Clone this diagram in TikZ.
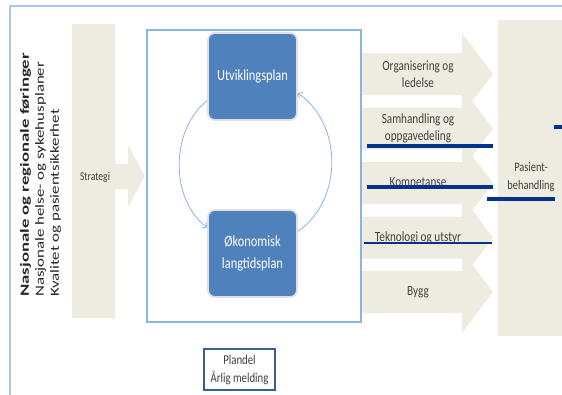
\documentclass[tikz,border=0pt]{standalone}
\usepackage{fontspec}
\setmainfont{Carlito}
\newfontfamily\hf[FakeStretch=0.8]{Carlito}
\newfontfamily\vf[FakeStretch=1.35]{Carlito}
\newfontfamily\vfb[FakeStretch=1.5]{Carlito}
\usetikzlibrary{arrows.meta}
\definecolor{beige}{HTML}{EEECE1}
\definecolor{boxblue}{HTML}{4F81BD}
\definecolor{frameblue}{HTML}{A6C6EC}
\definecolor{innerblue}{HTML}{8DB3E2}
\definecolor{navy}{HTML}{00338D}
\definecolor{txtgray}{HTML}{404040}
\definecolor{pdborder}{HTML}{3A5F8F}
\begin{document}
\begin{tikzpicture}[x=1pt,y=-1pt,
  bluebox/.style={draw=black!12, line width=1.8pt, fill=boxblue, rounded corners=7pt,
    text=white, align=center, font=\hf\fontsize{15.5}{22}\selectfont,
    minimum width=89pt, minimum height=87pt, inner sep=0pt},
  arrtext/.style={text=txtgray, align=center, font=\hf\fontsize{14}{17}\selectfont, inner sep=0pt},
  cycarrow/.style={draw=innerblue, line width=0.8pt, -{Straight Barb[length=3.5pt,width=7pt]}},
  navyline/.style={draw=navy, line width=4.5pt},
  thinnavy/.style={draw=navy, line width=1.2pt}]
\useasboundingbox (0,0) rectangle (562,394);
\fill[white] (0,0) rectangle (562,394);
% outer frame
\draw[frameblue, line width=1.5pt] (575,6) -- (10,6) -- (10,405);
% strategy arrow
\fill[beige] (72,24) -- (115,24) -- (115,164) -- (128,164) -- (128,145) -- (145,176)
  -- (128,207) -- (128,189) -- (115,189) -- (115,318) -- (72,318) -- cycle;
\node[arrtext, font=\hf\fontsize{12}{14}\selectfont] (strat) at (95,177) {Strategi};
% right arrows
\foreach \c in {74,128.5,183,237.5,292}
  \fill[beige] (361,\c-21) -- (462,\c-21) -- (462,\c-41) -- (493,\c) -- (462,\c+41)
    -- (462,\c+21) -- (361,\c+21) -- cycle;
\node[arrtext] (a1) at (418,74) {Organisering og\\ledelse};
\node[arrtext] (a2) at (418,128.5) {Samhandling og\\oppgavedeling};
\node[arrtext] (a3) at (418,183) {Kompetanse};
\node[arrtext] (a4) at (418,237.5) {Teknologi og utstyr};
\node[arrtext] (a5) at (418,292) {Bygg};
% patient column
\fill[beige] (498,20) rectangle (575,336);
\node[arrtext, font=\hf\fontsize{13}{18}\selectfont] (pas) at (531,177) {Pasient-\\behandling};
% inner box
\draw[innerblue, line width=1.2pt] (147,30) rectangle (361,322);
\node[bluebox] (utv) at (252.5,76.5) {Utviklingsplan};
\node[bluebox] (okon) at (252.5,253.5) {Økonomisk\\langtidsplan};
\draw[cycarrow] (utv.208) .. controls (170,130) and (170,200) .. (okon.150);
\draw[cycarrow] (okon.26) .. controls (343,200) and (343,125) .. (utv.-20);
% navy lines
\draw[navyline] (367,146) -- (493,146);
\draw[navyline] (367,187) -- (493,187);
\draw[navyline] (487,199) -- (555,199);
\draw[navyline] (554,127) -- (565,127);
\draw[thinnavy] (364,243) -- (492,243);
% plandel
\node[arrtext, draw=pdborder, line width=2pt, minimum width=71pt, minimum height=41pt,
  font=\hf\fontsize{13.5}{18}\selectfont] (plandel) at (239.5,369.5) {Plandel\\Årlig melding};
% left rotated text
\node[rotate=90, anchor=north west, align=left, inner sep=0pt, text=black!85,
  font=\vf\fontsize{12.5}{15}\selectfont] (lefttxt) at (20,297)
  {{\vfb\bfseries Nasjonale og regionale føringer}\\Nasjonale helse- og sykehusplaner\\Kvalitet og pasientsikkerhet};
\end{tikzpicture}
\end{document}
